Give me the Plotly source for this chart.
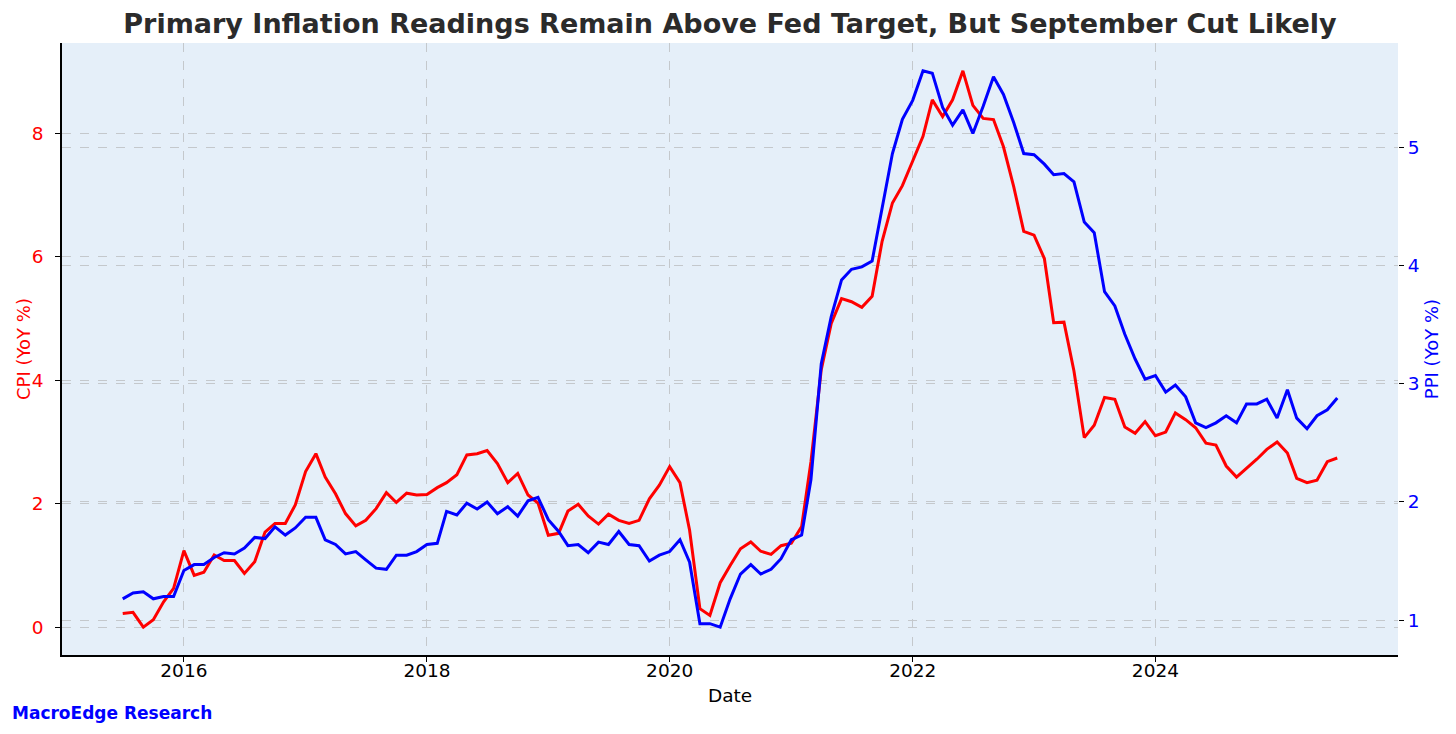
import pandas as pd
import plotly.graph_objects as go

start_month = "2015-07-01"
n_months = 121

cpi_yoy = [0.22, 0.24, 0.00, 0.12, 0.41, 0.63, 1.24, 0.84, 0.89, 1.17,
           1.08, 1.08, 0.87, 1.06, 1.54, 1.68, 1.68, 1.98, 2.52, 2.81,
           2.43, 2.16, 1.84, 1.64, 1.73, 1.92, 2.18, 2.02, 2.17, 2.14,
           2.15, 2.26, 2.34, 2.47, 2.79, 2.81, 2.86, 2.65, 2.34, 2.49,
           2.14, 2.01, 1.49, 1.52, 1.88, 1.99, 1.80, 1.67, 1.83, 1.73,
           1.68, 1.73, 2.08, 2.30, 2.60, 2.34, 1.57, 0.30, 0.19, 0.72,
           1.00, 1.27, 1.38, 1.23, 1.18, 1.32, 1.36, 1.63, 2.68, 4.17,
           4.92, 5.32, 5.27, 5.18, 5.36, 6.25, 6.87, 7.15, 7.55, 7.95,
           8.54, 8.27, 8.54, 9.01, 8.45, 8.24, 8.22, 7.78, 7.13, 6.41,
           6.35, 5.97, 4.93, 4.94, 4.15, 3.07, 3.27, 3.72, 3.69, 3.24,
           3.14, 3.33, 3.10, 3.16, 3.47, 3.36, 3.23, 2.98, 2.95, 2.61,
           2.43, 2.57, 2.72, 2.88, 3.00, 2.82, 2.41, 2.34, 2.38, 2.68, 2.74]

ppi_yoy = [1.18, 1.23, 1.24, 1.18, 1.20, 1.20, 1.42, 1.47, 1.47, 1.53,
           1.57, 1.56, 1.61, 1.70, 1.69, 1.79, 1.72, 1.78, 1.87, 1.87,
           1.68, 1.64, 1.56, 1.58, 1.51, 1.44, 1.43, 1.55, 1.55, 1.58,
           1.64, 1.65, 1.92, 1.89, 1.99, 1.94, 2.00, 1.90, 1.96, 1.88,
           2.01, 2.04, 1.85, 1.75, 1.63, 1.64, 1.57, 1.66, 1.64, 1.75,
           1.64, 1.63, 1.50, 1.55, 1.58, 1.68, 1.49, 0.97, 0.97, 0.94,
           1.18, 1.39, 1.47, 1.39, 1.43, 1.52, 1.68, 1.72, 2.19, 3.17,
           3.57, 3.88, 3.97, 3.99, 4.04, 4.48, 4.95, 5.24, 5.40, 5.65,
           5.63, 5.34, 5.19, 5.32, 5.12, 5.35, 5.60, 5.45, 5.21, 4.95,
           4.94, 4.86, 4.77, 4.78, 4.71, 4.37, 4.28, 3.78, 3.66, 3.42,
           3.21, 3.04, 3.07, 2.93, 2.99, 2.89, 2.67, 2.63, 2.67, 2.73,
           2.67, 2.83, 2.83, 2.87, 2.71, 2.95, 2.71, 2.62, 2.73, 2.78, 2.88]

x_tick_years = ["2016-01-01", "2018-01-01", "2020-01-01", "2022-01-01", "2024-01-01"]
x_tick_labels = ["2016", "2018", "2020", "2022", "2024"]
cpi_ticks = [0, 2, 4, 6, 8]
ppi_ticks = [1, 2, 3, 4, 5]

dates = pd.date_range(start_month, periods=n_months, freq="MS")


def padded(vals, frac=0.05):
    lo, hi = min(vals), max(vals)
    pad = (hi - lo) * frac
    return [lo - pad, hi + pad]


span = dates[-1] - dates[0]
x_range = [dates[0] - span * 0.05, dates[-1] + span * 0.05]

FONT = "DejaVu Sans"
GRID = "#c4c8cc"
PLOT_W = 1336

fig = go.Figure()
fig.add_trace(go.Scatter(x=dates, y=cpi_yoy, mode="lines", name="CPI",
                         line=dict(color="#ff0000", width=3), yaxis="y"))
fig.add_trace(go.Scatter(x=dates, y=ppi_yoy, mode="lines", name="PPI",
                         line=dict(color="#0000ff", width=3), yaxis="y2"))

fig.update_layout(
    width=1448, height=726,
    paper_bgcolor="white", plot_bgcolor="#e5eff9",
    showlegend=False,
    margin=dict(l=54, r=58, t=35, b=79, autoexpand=False),
    font=dict(family=FONT, size=18, color="black"),
    title=dict(text="Primary Inflation Readings Remain Above Fed Target, But September Cut Likely",
               x=0.5, xref="paper", xanchor="center", y=0.979, yanchor="middle",
               font=dict(family=FONT, size=27, color="#2b2b2b", weight="bold")),
    xaxis=dict(range=x_range, tickvals=x_tick_years, ticktext=x_tick_labels,
               showgrid=True, gridcolor=GRID, griddash="dash", gridwidth=1,
               showline=True, linecolor="black", linewidth=1.5,
               ticks="outside", ticklen=5, tickcolor="black",
               tickfont=dict(size=18.5, color="black"), ticklabelstandoff=-7,
               title=dict(text="Date", font=dict(size=18.5, color="black"), standoff=9),
               zeroline=False, automargin=False),
    yaxis=dict(range=padded(cpi_yoy), tickvals=cpi_ticks,
               showgrid=True, gridcolor=GRID, griddash="dash", gridwidth=1,
               showline=True, linecolor="black", linewidth=1.5,
               ticks="outside", ticklen=5, tickcolor="black",
               tickfont=dict(size=18.5, color="#ff0000"), ticklabelstandoff=8,
               zeroline=False, automargin=False),
    yaxis2=dict(range=padded(ppi_yoy), tickvals=ppi_ticks, overlaying="y", side="right",
                showgrid=True, gridcolor=GRID, griddash="dash", gridwidth=1,
                showline=False,
                ticks="outside", ticklen=5, tickcolor="black",
                tickfont=dict(size=18.5, color="#0000ff"),
                title=dict(text="PPI (YoY %)", font=dict(size=18, color="#0000ff"), standoff=6),
                zeroline=False, automargin=False),
)

fig.add_annotation(text="CPI (YoY %)", xref="paper", yref="paper",
                   x=(15 - 54) / PLOT_W, y=0.5, xanchor="center", yanchor="middle",
                   textangle=-90, showarrow=False,
                   font=dict(family=FONT, size=18, color="#ff0000"))

fig.add_annotation(text="<b>MacroEdge Research</b>", xref="paper", yref="paper",
                   x=(2 - 54) / PLOT_W, y=-0.095, xanchor="left", yanchor="middle",
                   showarrow=False, font=dict(family=FONT, size=17, color="#0000ff"))

fig.write_html("out.html")
